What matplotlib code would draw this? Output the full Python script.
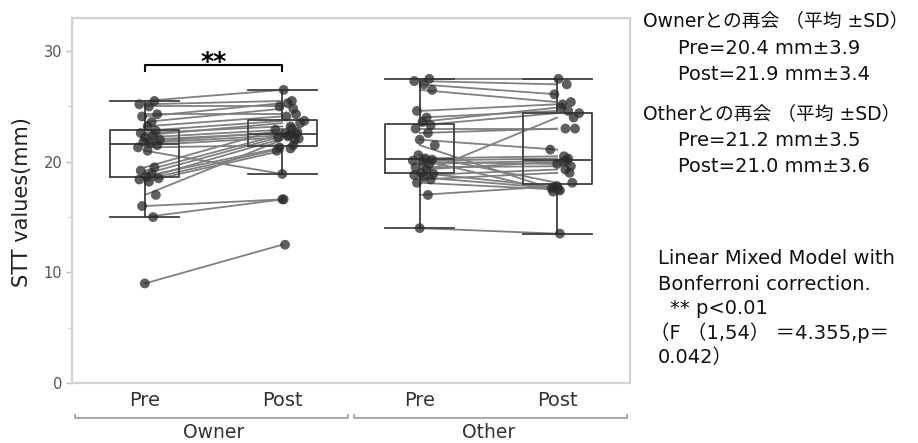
import matplotlib.pyplot as plt
import numpy as np

# STT values per dog, paired (pre, post) by index
conditions = ["Pre", "Post", "Pre", "Post"]
groups = ["Owner", "Other"]

owner_pre = [9.0, 15.0, 16.0, 17.0, 18.2, 18.4, 18.5, 18.7, 18.9, 19.2,
             19.5, 21.0, 21.3, 21.5, 21.7, 21.8, 22.0, 22.2, 22.4, 22.6,
             22.8, 23.2, 23.6, 24.1, 24.3, 25.0, 25.2, 25.5]
owner_post = [12.5, 16.6, 16.6, 22.0, 21.0, 21.2, 22.1, 21.3, 22.3, 22.5,
              23.0, 18.9, 21.5, 22.2, 22.4, 22.7, 22.6, 22.9, 23.5, 23.2,
              23.7, 24.1, 24.8, 25.3, 24.3, 25.0, 25.5, 26.5]

other_pre = [14.0, 17.0, 18.1, 18.4, 18.6, 18.8, 18.9, 19.0, 19.3, 19.5,
             19.8, 20.0, 20.1, 20.2, 20.3, 20.6, 21.5, 22.0, 22.6, 23.0,
             23.3, 23.6, 24.0, 24.6, 26.5, 27.0, 27.3, 27.5]
other_post = [13.5, 17.8, 17.5, 19.0, 17.6, 19.3, 24.0, 17.7, 20.0, 19.6,
              20.1, 19.8, 20.3, 17.3, 20.5, 18.1, 17.4, 21.1, 23.0, 23.0,
              24.4, 24.9, 24.6, 25.2, 25.4, 26.1, 27.0, 27.5]

summary_owner = ["Ownerとの再会 （平均 ±SD）", "Pre=20.4 mm±3.9", "Post=21.9 mm±3.4"]
summary_other = ["Otherとの再会 （平均 ±SD）", "Pre=21.2 mm±3.5", "Post=21.0 mm±3.6"]
stats_note = ["Linear Mixed Model with", "Bonferroni correction.",
              "** p<0.01", "（F （1,54） ＝4.355,p＝", "0.042）"]

# horizontal scatter offsets for the dots
jitter_pre = [0.00, 0.06, -0.02, 0.08, 0.03, -0.04, 0.10, 0.01, 0.05, -0.03,
              0.07, 0.02, -0.05, 0.09, 0.04, -0.01, 0.11, 0.00, 0.06, -0.03,
              0.08, 0.02, 0.05, -0.02, 0.09, 0.03, -0.04, 0.07]
jitter_post = [0.02, 0.00, 0.01, 0.09, -0.04, 0.06, 0.12, -0.02, 0.04, 0.10,
               0.07, 0.00, 0.08, -0.03, 0.05, 0.11, 0.02, -0.05, 0.13, 0.06,
               0.16, 0.03, 0.08, 0.04, 0.10, -0.02, 0.07, 0.01]

W, H = 918, 443
fig = plt.figure(figsize=(W / 100, H / 100), dpi=100)
ax = fig.add_axes([72 / W, 60 / H, 558 / W, 365 / H])

positions = [0, 1, 2, 3]
series = [owner_pre, owner_post, other_pre, other_post]

# paired lines pre -> post
for p0, pre, post in [(0, owner_pre, owner_post), (2, other_pre, other_post)]:
    for a, b in zip(pre, post):
        ax.plot([p0, p0 + 1], [a, b], color="#808080", lw=1.3, zorder=2)

box_col = "#404040"
ax.boxplot(series, positions=positions, widths=0.5, capwidths=0.5,
           showfliers=False, whis=1.5,
           boxprops=dict(color=box_col, lw=1.3),
           medianprops=dict(color=box_col, lw=1.3),
           whiskerprops=dict(color=box_col, lw=1.3),
           capprops=dict(color=box_col, lw=1.3),
           zorder=2.5)

for i, vals in enumerate(series):
    jit = jitter_pre if i % 2 == 0 else jitter_post
    xs = positions[i] + np.array(jit[:len(vals)])
    ax.scatter(xs, vals, s=50, color="#2a2a2a", alpha=0.75,
               edgecolors="none", zorder=3)

ax.set_xlim(-0.53, 3.53)
ax.set_ylim(0, 33)

for sp in ax.spines.values():
    sp.set_color("#d2d2d2")
    sp.set_linewidth(1.6)

ax.set_yticks([0, 10, 20, 30])
ax.set_yticks([5, 15, 25], minor=True)
ax.tick_params(axis="y", which="major", length=4, width=1, color="#bbbbbb",
               labelcolor="#555555", labelsize=10.5, pad=3)
ax.tick_params(axis="y", which="minor", length=3, width=1, color="#cccccc")
ax.set_xticks(positions, conditions)
ax.tick_params(axis="x", length=0, labelsize=14, labelcolor="#333333", pad=6)

fig.text(22 / W, 1 - 202 / H, "STT values(mm)", rotation=90, ha="center",
         va="center", fontsize=15, color="#222222")

# group brackets under the tick labels
tr = ax.get_xaxis_transform()
yb = -35 / 365
tk = 3 / 365
for x0, x1, label, xc in [(-0.51, 1.48, groups[0], 0.5), (1.52, 3.51, groups[1], 2.5)]:
    ax.plot([x0, x0, x1, x1], [yb + tk, yb, yb, yb + tk], transform=tr,
            color="#999999", lw=1.2, clip_on=False)
    ax.text(xc, -49 / 365, label, transform=tr, ha="center", va="center",
            fontsize=13.5, color="#333333")

# significance bracket
ax.plot([0, 0, 1, 1], [28.2, 28.75, 28.75, 28.2], color="black", lw=1.5,
        zorder=4)
ax.text(0.5, 28.35, "**", ha="center", va="baseline", fontsize=18,
        fontweight="bold", color="black")

fam = ["DejaVu Sans", "Noto Sans CJK JP"]
for (x, y), s, fs in zip([(643, 21), (678, 48), (678, 74)], summary_owner,
                         [13.5, 14, 14]):
    fig.text(x / W, 1 - y / H, s, ha="left", va="center", fontsize=fs,
             family=fam, color="#111111")
for (x, y), s, fs in zip([(643, 114), (678, 141), (678, 166)], summary_other,
                         [13.5, 14, 14]):
    fig.text(x / W, 1 - y / H, s, ha="left", va="center", fontsize=fs,
             family=fam, color="#111111")
for (x, y), s in zip([(658, 259), (658, 284), (670, 308), (650, 333), (658, 358)],
                     stats_note):
    fig.text(x / W, 1 - y / H, s, ha="left", va="center", fontsize=14,
             family=fam, color="#111111")

fig.savefig("out.png", dpi=100, facecolor="white")
